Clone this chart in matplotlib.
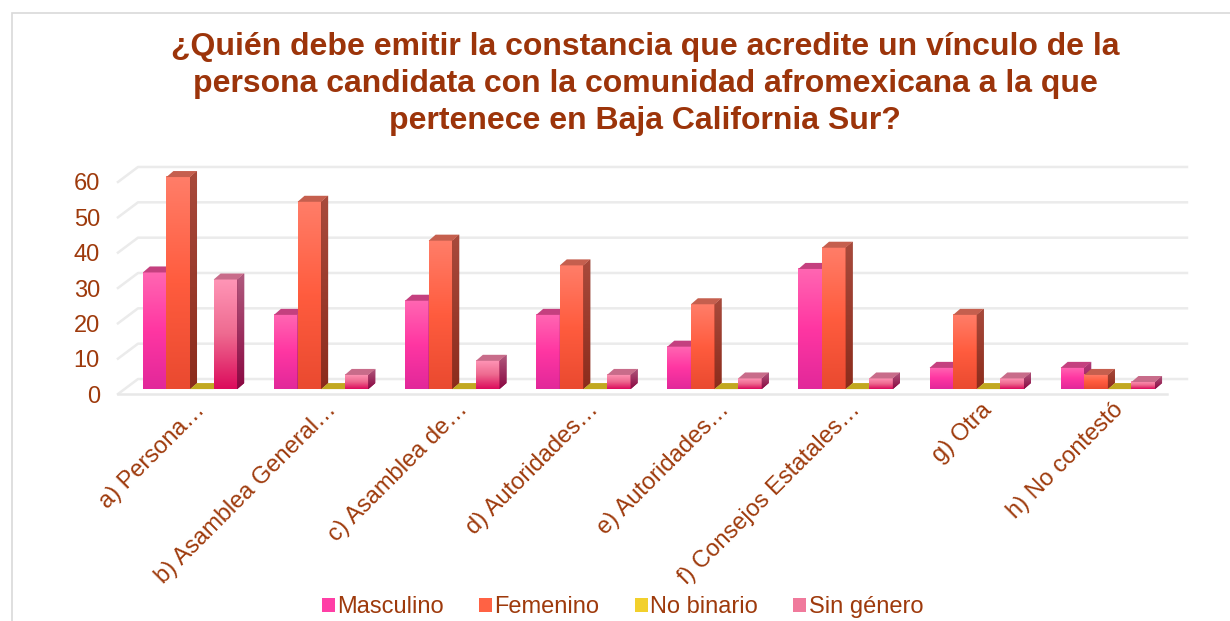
import numpy as np
import matplotlib
matplotlib.use('Agg')
import matplotlib.pyplot as plt
from matplotlib.patches import Polygon, Patch, Rectangle
from matplotlib.colors import LinearSegmentedColormap

categories = ['a) Persona…', 'b) Asamblea General…', 'c) Asamblea de…',
              'd) Autoridades…', 'e) Autoridades…', 'f) Consejos Estatales…',
              'g) Otra', 'h) No contestó']
series = ['Masculino', 'Femenino', 'No binario', 'Sin género']
masculino = [33, 21, 25, 21, 12, 34, 6, 6]
femenino = [60, 53, 42, 35, 24, 40, 21, 4]
no_binario = [0, 0, 0, 0, 0, 0, 0, 0]
sin_genero = [31, 4, 8, 4, 3, 3, 3, 2]
yticks = [0, 10, 20, 30, 40, 50, 60]

title = ('¿Quién debe emitir la constancia que acredite un vínculo de la\n'
         'persona candidata con la comunidad afromexicana a la que\n'
         'pertenece en Baja California Sur?')

BROWN = '#9E3A0C'
# front gradient (bottom, middle, top), top face, side face (bottom, top)
styles = [
    (['#E2289A', '#FF36A2', '#FF66B2'], '#C4407F', ['#8E1E58', '#B33A78']),
    (['#EA4A30', '#FF5C3E', '#FF7D68'], '#C55F4E', ['#8C2C1C', '#A84A3C']),
    (['#C2A820', '#D8B828', '#E8CC40'], '#C2A820', ['#9A8418', '#B09A20']),
    (['#DC0C5C', '#EE6A90', '#FF95B6'], '#C86C8A', ['#8A0842', '#B05A7E']),
]
legend_cols = ['#FF3FA6', '#FF6244', '#F2D02C', '#F07A9C']

fig = plt.figure(figsize=(12.3, 6.21), dpi=100)
fig.patches.append(Rectangle((12 / 1230, -0.1), 1.1, 1 - 13 / 621 + 0.1,
                             transform=fig.transFigure, fill=False,
                             edgecolor='#D9D9D9', linewidth=1.2))
ax = fig.add_axes([0.0959, 0.3655, 0.8528, 0.3585])

x = np.arange(len(categories))
w = 0.18
floor_dx, floor_dy = 0.05, 1.4     # bars sit a little behind the front edge
bar_dx, bar_dy = 0.053, 1.7        # bar depth
wall_dx, wall_dy = 0.153, 4.25     # back wall
xmin, xmax = -0.5, 7.5
ymax = 63

# back wall gridlines and floor
for v in yticks:
    ax.plot([xmin, xmin + wall_dx, xmax + wall_dx], [v, v + wall_dy, v + wall_dy],
            color='#EBEBEB', lw=1.8, clip_on=False, zorder=0)
ax.plot([xmin, xmax], [0, 0], color='#E8E8E8', lw=1.8, clip_on=False, zorder=0)

grad = np.linspace(0, 1, 64).reshape(-1, 1)
data = [masculino, femenino, no_binario, sin_genero]
for k, vals in enumerate(data):
    front, topc, side = styles[k]
    cm_front = LinearSegmentedColormap.from_list('f%d' % k, front)
    cm_side = LinearSegmentedColormap.from_list('s%d' % k, side)
    pos = x + (k - 1.5) * w + floor_dx
    z = 2 + k
    bars = ax.bar(pos, vals, w, bottom=floor_dy, color=front[1], linewidth=0, zorder=z)
    for b, h in zip(bars, vals):
        x0 = b.get_x()
        x1 = x0 + b.get_width()
        y0 = b.get_y()
        y1 = y0 + b.get_height()
        if h > 0:
            ax.imshow(grad, extent=[x0, x1, y0, y1], origin='lower', aspect='auto',
                      cmap=cm_front, zorder=z, interpolation='bilinear')
            sp = Polygon([[x1, y0], [x1, y1], [x1 + bar_dx, y1 + bar_dy], [x1 + bar_dx, y0 + bar_dy]],
                         closed=True, facecolor=side[0], edgecolor='none', zorder=z)
            ax.add_patch(sp)
            im = ax.imshow(grad, extent=[x1, x1 + bar_dx, y0, y1 + bar_dy], origin='lower',
                           aspect='auto', cmap=cm_side, zorder=z, interpolation='bilinear')
            im.set_clip_path(sp)
        ax.add_patch(Polygon([[x0, y1], [x1, y1], [x1 + bar_dx, y1 + bar_dy], [x0 + bar_dx, y1 + bar_dy]],
                             closed=True, facecolor=topc, edgecolor='none', zorder=z))

ax.set_xlim(xmin, xmax)
ax.set_ylim(0, ymax)
ax.set_yticks(yticks)
ax.set_yticklabels([str(v) for v in yticks], fontsize=17, color=BROWN,
                   family='Liberation Sans')
# Excel anchors the slanted labels a bit right of the group centre
ax.set_xticks(x + 0.14)
ax.set_xticklabels(categories, rotation=45, ha='right', va='center',
                   rotation_mode='anchor', fontsize=17, color=BROWN,
                   family='Liberation Sans')
ax.tick_params(axis='y', length=0, pad=13)
ax.tick_params(axis='x', length=0, pad=9)
for s in ax.spines.values():
    s.set_visible(False)

fig.text(0.5245, 1 - 32 / 621, title, ha='center', va='top', fontsize=23,
         fontweight='bold', color='#9C340A', family='Liberation Sans',
         linespacing=1.3)

handles = [Patch(facecolor=c, edgecolor='none', label=s) for c, s in zip(legend_cols, series)]
fig.legend(handles=handles, loc='center', bbox_to_anchor=(0.506, 1 - 607 / 621), ncol=4,
           frameon=False, handlelength=0.55, handleheight=0.55, handletextpad=0.1,
           columnspacing=1.5, prop={'family': 'Liberation Sans', 'size': 17},
           labelcolor=BROWN)

fig.savefig('out.png', dpi=100)
